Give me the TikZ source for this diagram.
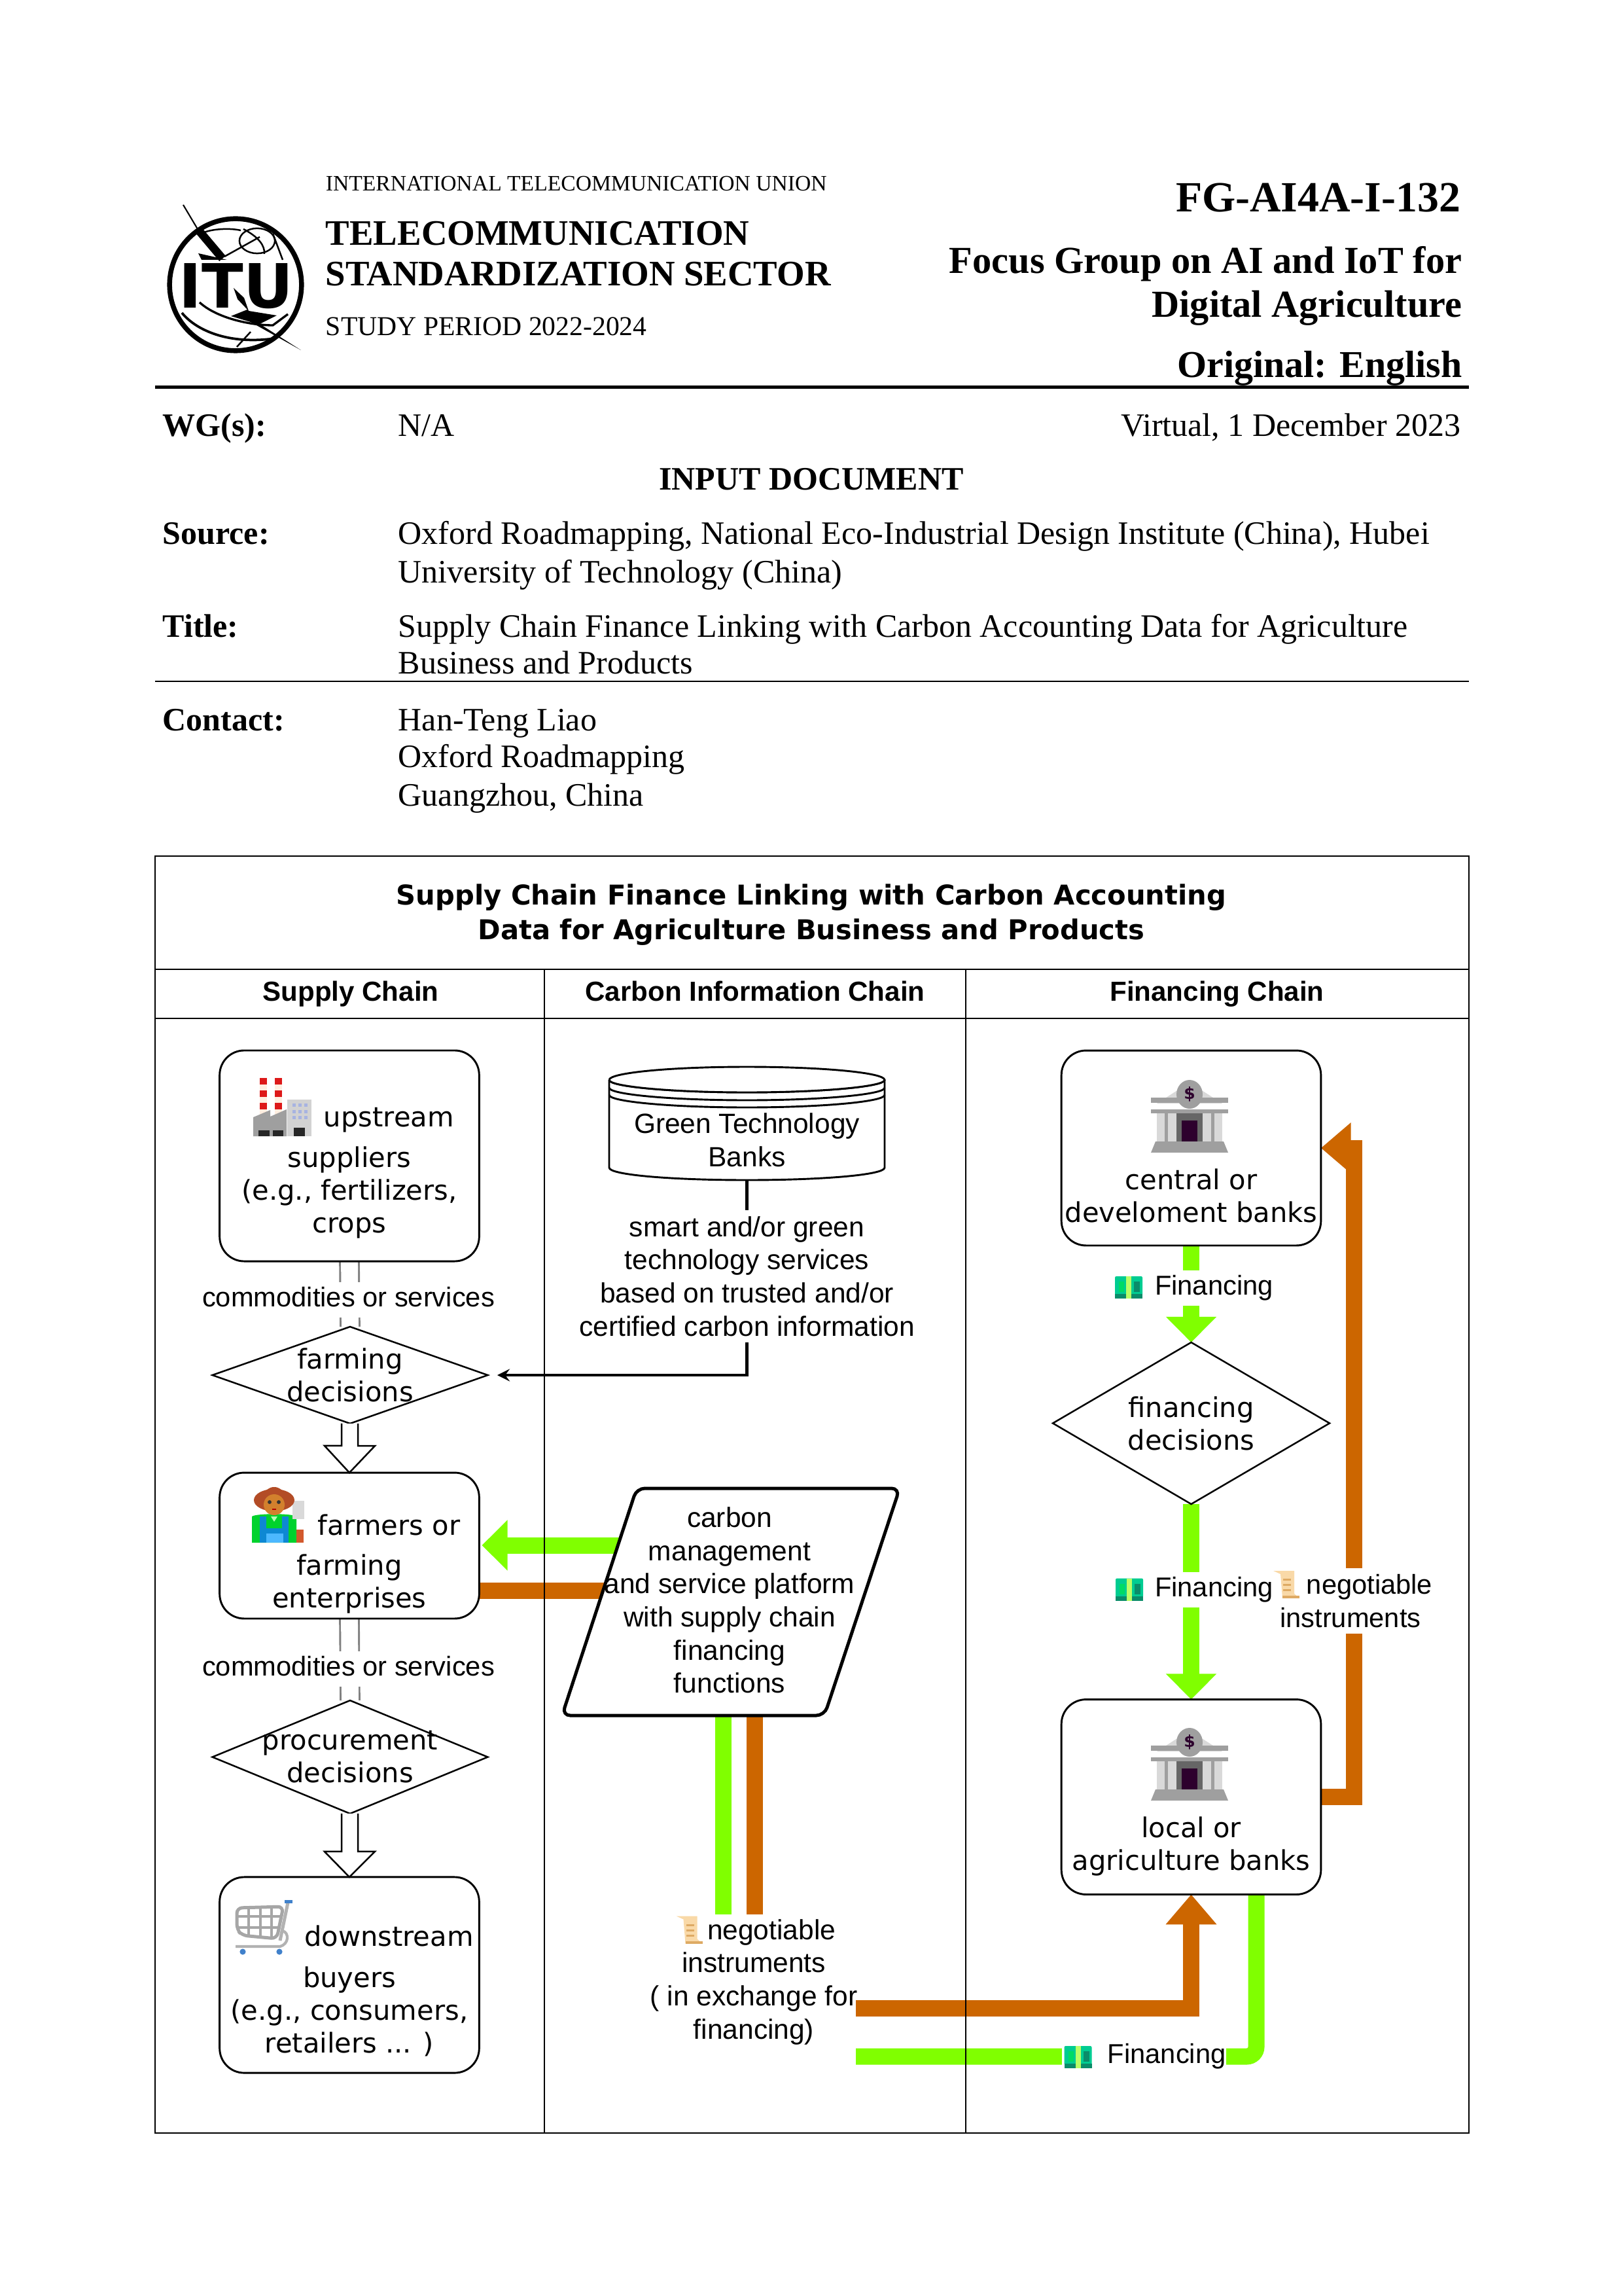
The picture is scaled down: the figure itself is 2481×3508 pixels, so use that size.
\documentclass[tikz,border=0pt]{standalone}
\usepackage{fontspec}
\setmainfont{Liberation Serif}
\newfontfamily\boxfont{DejaVu Sans}
\newfontfamily\lanefont{Liberation Sans}
\usetikzlibrary{shapes.geometric,arrows.meta,backgrounds}
\definecolor{flowgreen}{RGB}{128,255,0}
\definecolor{floworange}{RGB}{204,102,0}
\definecolor{moneylight}{RGB}{0,204,145}
\definecolor{moneydark}{RGB}{10,140,105}
\definecolor{scrollpale}{RGB}{249,217,168}
\definecolor{scrollline}{RGB}{222,170,100}
\tikzset{
    doctext/.style={anchor=base west, inner sep=0pt, font=\fontsize{12}{14}\selectfont},
    docbold/.style={doctext, font=\bfseries\fontsize{12}{14}\selectfont},
    boxtext/.style={align=center, inner sep=0pt, font=\boxfont\fontsize{10}{12}\selectfont},
    lanetext/.style={align=center, inner sep=0pt, font=\lanefont\fontsize{10.2}{12.15}\selectfont},
    flowbox/.style={boxtext, draw, fill=white, line width=0.7pt, rounded corners=9pt, outer sep=0pt, minimum width=95.2pt},
    decision/.style={diamond, draw, fill=white, line width=0.6pt, inner sep=0pt, outer sep=0pt},
    gaplabel/.style={inner sep=0pt, fill=white, font=\lanefont\fontsize{10}{12}\selectfont, text height=9pt, text depth=4pt},
    greenflow/.style={draw=flowgreen, line width=6pt},
    orangeflow/.style={draw=floworange, line width=6pt},
    greentip/.style={-{Triangle[length=9.4pt,width=18pt]}},
    orangetip/.style={-{Triangle[length=11pt,width=18pt]}},
    goodsline/.style={draw=gray, line width=0.7pt, double=white, double distance=6.2pt},
    hollowarrow/.style={draw, fill=white, line width=0.6pt},
    bankicon/.pic={
        \fill[gray!30] (-50,-20) -- (0,-52) -- (50,-20) -- cycle;
        \fill[gray!30] (-50,-5) rectangle (50,38);
        \fill[gray!75] (-59,-29) rectangle (59,-21);
        \fill[gray!75] (-59,-11) rectangle (59,-5);
        \fill[gray!75] (0,-34) ellipse (20pt*0.24 and 22pt*0.24);
        \fill[gray!75] (-38,-5) rectangle (-33,38);
        \fill[gray!75] (33,-5) rectangle (38,38);
        \fill[black!60] (-20,-5) rectangle (20,38);
        \fill[violet!35!black] (-12,6) rectangle (12,38);
        \fill[gray!75] (-52,38) -- (52,38) -- (59,55) -- (-59,55) -- cycle;
        \node[inner sep=0pt, text=violet!35!black, font=\boxfont\bfseries\fontsize{6}{6}\selectfont] (coin) at (0,-34) {\$};
    },
    moneyicon/.pic={
        \fill[moneylight, rounded corners=0.5pt] (-21,-17) rectangle (21,12);
        \fill[moneydark] (-21,10) rectangle (21,17);
        \fill[green!45!yellow!60] (-4,-17) rectangle (4,17);
        \fill[green!30!moneylight] (-15,-9) rectangle (-7,7);
        \fill[moneydark] (8,-9) rectangle (17,7);
    },
    scrollicon/.pic={
        \fill[scrollpale] (-20,-21) -- (12,-21) -- (12,14) -- (20,21) -- (-6,21) -- (-9,-16) -- cycle;
        \foreach \yy in {-9,-1,7} {
            \fill[scrollline] (-5,\yy) rectangle (7,{\yy+3});
        }
        \fill[scrollline] (-6,17) rectangle (20,21);
    },
    factoryicon/.pic={
        \foreach \xx in {-34,-11} {
            \fill[red!12!orange!12] (\xx,-45) rectangle ({\xx+11},13);
            \foreach \yy in {-45,-26,-7} {
                \fill[red!85!black!90] (\xx,\yy) rectangle ({\xx+11},{\yy+10});
            }
        }
        \fill[gray!75] (-44,15) -- (-18,4) -- (-18,14) -- (7,3) -- (7,44) -- (-44,44) -- cycle;
        \fill[gray!35] (8,-12) rectangle (45,44);
        \foreach \xx in {15.7,25,34.3} {
            \foreach \yy in {-6,4,13} {
                \fill[cyan!35!blue!35] (\xx,\yy) rectangle ({\xx+5},{\yy+5});
            }
        }
        \fill[black!85] (-36,35) rectangle (-19,44);
        \fill[black!85] (-14,35) rectangle (2,44);
        \fill[black!85] (18,31) rectangle (35,44);
    },
    farmericon/.pic={
        \fill[green!65!teal] (-34,2) .. controls (-28,-3) and (28,-3) .. (34,2) -- (34,42) -- (-34,42) -- cycle;
        \fill[cyan!70!blue] (-22,2) rectangle (22,42);
        \fill[green!65!teal] (-12,2) rectangle (12,20);
        \fill[white!70!green] (-5,2) -- (5,2) -- (0,10) -- cycle;
        \fill[blue!40!cyan!70] (-12,28) rectangle (14,42);
        \fill[gray!30] (28,-22) rectangle (46,6);
        \fill[brown!70!red] (34,22) rectangle (45,42);
        \fill[brown!70!red!85!black] (0,-23) ellipse (31pt*0.24 and 17pt*0.24);
        \fill[brown!70!red!85!black] (0,-32) ellipse (14pt*0.24 and 11pt*0.24);
        \fill[brown!70!orange] (0,-16) ellipse (16pt*0.24 and 16pt*0.24);
        \fill[black!80] (-7,-20) circle (0.7pt);
        \fill[black!80] (7,-20) circle (0.7pt);
        \fill[red!70!black] (-3,-10) rectangle (3,-8);
    },
    carticon/.pic={
        \draw[gray!70, line width=1.2pt, rounded corners=2pt] (-41,-30) -- (30,-32) -- (20,17) -- (-33,12) -- (-41,3) -- cycle;
        \foreach \xx in {-23,-5,12} {
            \draw[gray!70, line width=0.8pt] (\xx,-31) -- (\xx,14);
        }
        \foreach \yy in {-17,0} {
            \draw[gray!70, line width=0.8pt] (-41,\yy) -- (25,\yy);
        }
        \draw[gray!60, line width=1.2pt] (37,-38) -- (25,20);
        \draw[gray!60, line width=1pt] (29,5) .. controls (39,8) and (39,25) .. (25,29) -- (-43,29);
        \fill[cyan!50!blue!80] (32,-42) rectangle (44,-37);
        \fill[cyan!50!blue!80] (-32,37) circle (1.1pt);
        \fill[cyan!50!blue!80] (24,37) circle (1.1pt);
    }
}
\begin{document}
\begin{tikzpicture}[x=0.24pt, y=-0.24pt, >=stealth]
    \useasboundingbox (0,0) rectangle (2481,3508);

    % letterhead
    \draw[line width=1.8pt] (360,435) circle (24.2pt);
    \node[inner sep=0pt, font=\boxfont\bfseries\fontsize{22.4}{23}\selectfont] (itu) at (361,437) {ITU};
    \draw[line width=0.5pt] (280,313) -- (302,350);
    \draw[line width=3pt] (302,350) -- (340,395);
    \fill (303,387) -- (347,397) -- (308,397) -- cycle;
    \draw[line width=0.6pt] (343,392) -- (397,362);
    \draw[line width=0.6pt] (393,368) ellipse (6.5pt and 4.6pt);
    \draw[line width=0.6pt] (372,350) .. controls (395,362) and (405,375) .. (404,388);
    \draw[line width=0.6pt] (312,355) .. controls (325,350) and (350,348) .. (368,352);
    \draw[line width=0.6pt] (417,357) -- (432,397);
    \draw[line width=0.8pt] (305,462) .. controls (330,485) and (380,497) .. (417,497) -- (440,480);
    \draw[line width=0.9pt] (278,478) .. controls (300,505) and (350,527) .. (420,517);
    \draw[line width=0.6pt] (383,507) -- (362,530);
    \fill (357,440) -- (373,455) -- (380,475) -- (423,482) -- (397,495) -- (460,535) -- (383,492) -- (353,483) -- (378,473) -- (363,457) -- cycle;

    \node[doctext, font=\fontsize{8.07}{9}\selectfont] (ituname) at (497,292) {INTERNATIONAL TELECOMMUNICATION UNION};
    \node[docbold, font=\bfseries\fontsize{13.15}{14}\selectfont] (sectorone) at (497,375) {TELECOMMUNICATION};
    \node[docbold, font=\bfseries\fontsize{13.15}{14}\selectfont] (sectortwo) at (497,437) {STANDARDIZATION SECTOR};
    \node[doctext, font=\fontsize{10}{12}\selectfont] (period) at (497,513) {STUDY PERIOD 2022-2024};
    \node[docbold, anchor=base east, font=\bfseries\fontsize{15.8}{18}\selectfont] (docno) at (2233,324) {FG-AI4A-I-132};
    \node[docbold, anchor=base east, font=\bfseries\fontsize{14}{16}\selectfont] (groupone) at (2235,418) {Focus Group on AI and IoT for};
    \node[docbold, anchor=base east, font=\bfseries\fontsize{14}{16}\selectfont] (grouptwo) at (2235,485) {Digital Agriculture};
    \node[docbold, anchor=base east, font=\bfseries\fontsize{13.9}{16}\selectfont] (original) at (2235,577) {Original: English};
    \draw[line width=1.2pt] (237,592) -- (2245,592);

    \node[docbold] (wglabel) at (248,667) {WG(s):};
    \node[doctext] (wgtext) at (608,667) {N/A};
    \node[doctext, anchor=base east] (place) at (2233,667) {Virtual, 1 December 2023};
    \node[docbold, anchor=base] (inputdoc) at (1240,749) {INPUT DOCUMENT};
    \node[docbold] (sourcelabel) at (248,832) {Source:};
    \node[doctext] (sourceone) at (608,832) {Oxford Roadmapping, National Eco-Industrial Design Institute (China), Hubei};
    \node[doctext] (sourcetwo) at (608,890) {University of Technology (China)};
    \node[docbold] (titlelabel) at (248,973) {Title:};
    \node[doctext] (titleone) at (608,973) {Supply Chain Finance Linking with Carbon Accounting Data for Agriculture};
    \node[doctext] (titletwo) at (608,1029) {Business and Products};
    \draw[line width=0.6pt] (237,1041) -- (2245,1041);
    \node[docbold] (contactlabel) at (248,1116) {Contact:};
    \node[doctext] (contactone) at (608,1116) {Han-Teng Liao};
    \node[doctext] (contacttwo) at (608,1172) {Oxford Roadmapping};
    \node[doctext] (contactthree) at (608,1231) {Guangzhou, China};

    % boxes of the three lanes
    \node[flowbox, minimum height=77.3pt] (upstream) at (534,1766) {\rule{0pt}{19.7pt}\hspace*{29pt}upstream\\[2.9pt]suppliers\\(e.g., fertilizers,\\crops};
    \node[flowbox, minimum height=53.5pt] (farmers) at (534,2361.5) {\rule{0pt}{21pt}\hspace*{29pt}farmers or\\[2.6pt]farming\\enterprises};
    \node[flowbox, minimum height=71.8pt] (downstream) at (534,3017.5) {\rule{0pt}{19.4pt}\hspace*{29pt}downstream\\[3pt]buyers\\(e.g., consumers,\\retailers ... )};
    \node[decision, minimum width=101pt, minimum height=35.5pt] (farmdiamond) at (535,2101) {};
    \node[decision, minimum width=101pt, minimum height=41.5pt] (procurediamond) at (535,2684.5) {};
    \node[flowbox, minimum height=71.5pt] (centralbank) at (1820.5,1754) {\rule{0pt}{42.7pt}central or\\develoment banks};
    \node[decision, minimum width=101.5pt, minimum height=59.3pt] (financediamond) at (1820.5,2174.5) {};
    \node[flowbox, minimum height=71.5pt] (localbank) at (1820.5,2745.5) {\rule{0pt}{43.7pt}local or\\agriculture banks};
    \draw[fill=white, line width=1.2pt, rounded corners=3pt] (973,2274) -- (1375,2274) -- (1260,2621) -- (859,2621) -- cycle;
    \node[lanetext] (platform) at (1115,2445) {carbon\\management\\and service platform\\with supply chain\\financing\\functions};
    \node[lanetext, minimum width=101pt, minimum height=29.5pt] (techbanks) at (1141.5,1741.5) {};
    \node[lanetext, minimum height=48.2pt] (carboninfo) at (1141.5,1950) {smart and/or green\\technology services\\based on trusted and/or\\certified carbon information};
    \node[lanetext, anchor=north] (negotext) at (1152,2925) {\rule{0pt}{9pt}\hspace*{13pt}negotiable\\instruments\\( in exchange for\\financing)};

    \coordinate (platgreenleft) at (1000,2361);
    \coordinate (platorangeleft) at (1000,2430);
    \coordinate (platgreendown) at (1105,2600);
    \coordinate (platorangedown) at (1153,2600);
    \coordinate (negorange) at (1308,3068);
    \coordinate (neggreen) at (1308,3142);
    \coordinate (localgreen) at (1920,2894);
    \coordinate (localorange) at (2069,2745.5);
    \coordinate (centralorange) at (2069,1754);

    \begin{scope}[on background layer]
        \draw[greenflow, greentip, shorten >=1pt] (platgreenleft) -- (farmers.east |- platgreenleft);
        \draw[orangeflow] (platorangeleft) -- (farmers.east |- platorangeleft);
        \draw[greenflow] (platgreendown) -- (platgreendown |- negotext.north);
        \draw[orangeflow] (platorangedown) -- (platorangedown |- negotext.north);
        \draw[orangeflow, orangetip] (negorange) -| (localbank.south);
        \draw[greenflow, rounded corners=3.5pt] (localgreen) |- (neggreen);
        \draw[greenflow, greentip] (centralbank.south) -- (financediamond.north);
        \draw[greenflow, greentip] (financediamond.south) -- (localbank.north);
        \draw[orangeflow, orangetip] (localbank.east) -- (localorange) -- (centralorange) -- (centralbank.east);
        \draw[goodsline] (upstream.south) -- (farmdiamond.north);
        \draw[goodsline] (farmers.south) -- (procurediamond.north);
    \end{scope}

    \draw[hollowarrow] (farmdiamond.south) ++(-13,0) -- ++(0,34) -- ++(-26,0) -- (farmers.north) -- ++(39,-41) -- ++(-26,0) -- ++(0,-34);
    \draw[hollowarrow] (procurediamond.south) ++(-13,0) -- ++(0,58) -- ++(-26,0) -- (downstream.north) -- ++(39,-39) -- ++(-26,0) -- ++(0,-58);

    \draw[line width=1pt] (techbanks.south) -- (carboninfo.north);
    \draw[->, line width=1pt, shorten >=3.5pt] (carboninfo.south) |- (farmdiamond.east);

    \draw[line width=0.7pt, fill=white] (931,1650) -- (931,1784) .. controls (931,1795) and (1025,1803) .. (1141.5,1803) .. controls (1258,1803) and (1352,1795) .. (1352,1784) -- (1352,1650);
    \foreach \yy in {1650,1662,1673} {
        \draw[line width=0.7pt] (931,\yy) .. controls (931,{\yy+10}) and (1025,{\yy+19}) .. (1141.5,{\yy+19}) .. controls (1258,{\yy+19}) and (1352,{\yy+10}) .. (1352,\yy);
    }
    \draw[line width=0.7pt, fill=white] (931,1650) .. controls (931,1639) and (1025,1630) .. (1141.5,1630) .. controls (1258,1630) and (1352,1639) .. (1352,1650) .. controls (1352,1660) and (1258,1669) .. (1141.5,1669) .. controls (1025,1669) and (931,1660) .. (931,1650);
    \node[lanetext] (techbankstext) at (techbanks) {Green Technology\\Banks};

    % frame and lanes
    \draw[line width=0.6pt] (237,1308) rectangle (2245,3259);
    \draw[line width=0.6pt] (237,1481) -- (2245,1481);
    \draw[line width=0.6pt] (237,1556) -- (2245,1556);
    \foreach \xx in {832,1476} {
        \draw[line width=0.6pt] (\xx,1481) -- (\xx,3259);
    }
    \node[boxtext, font=\boxfont\bfseries\fontsize{10}{12.7}\selectfont] (charttitle) at (1240,1398) {Supply Chain Finance Linking with Carbon Accounting\\Data for Agriculture Business and Products};
    \node[inner sep=0pt, anchor=base, font=\lanefont\bfseries\fontsize{10.1}{12}\selectfont] (supplyhead) at (536,1529) {Supply Chain};
    \node[inner sep=0pt, anchor=base, font=\lanefont\bfseries\fontsize{10.1}{12}\selectfont] (carbonhead) at (1154,1529) {Carbon Information Chain};
    \node[inner sep=0pt, anchor=base, font=\lanefont\bfseries\fontsize{10.1}{12}\selectfont] (financehead) at (1860,1529) {Financing Chain};

    % text over the arrows
    \node[boxtext] (farmlabel) at (535,2101) {farming\\decisions};
    \node[boxtext] (procurelabel) at (535,2684) {procurement\\decisions};
    \node[boxtext] (financelabel) at (1820.5,2174.5) {financing\\decisions};
    \node[gaplabel] (goodsone) at (532.5,1986) {commodities or services};
    \node[gaplabel] (goodstwo) at (532.5,2550) {commodities or services};
    \node[lanetext, fill=white, anchor=east, minimum height=24.2pt, font=\lanefont\fontsize{10}{12.3}\selectfont] (negolabel) at (2190,2446) {\hspace*{14pt}negotiable\\instruments};
    \node[gaplabel, anchor=west] (fundingone) at (1700,1968) {\hspace*{15.4pt}Financing};
    \node[gaplabel, anchor=west] (fundingtwo) at (1700,2429) {\hspace*{15.4pt}Financing};
    \node[gaplabel, anchor=west] (fundingthree) at (1622,3142) {\hspace*{16.8pt}Financing};

    % icons
    \pic at (431,1692) {factoryicon};
    \pic at (419,2315) {farmericon};
    \pic at (403,2945) {carticon};
    \pic at (1818,1706) {bankicon};
    \pic at (1818,2696) {bankicon};
    \pic at (1725,1967) {moneyicon};
    \pic at (1726,2428.5) {moneyicon};
    \pic at (1647.5,3143) {moneyicon};
    \pic at (1053.5,2948.5) {scrollicon};
    \pic at (1966,2421) {scrollicon};
\end{tikzpicture}
\end{document}
